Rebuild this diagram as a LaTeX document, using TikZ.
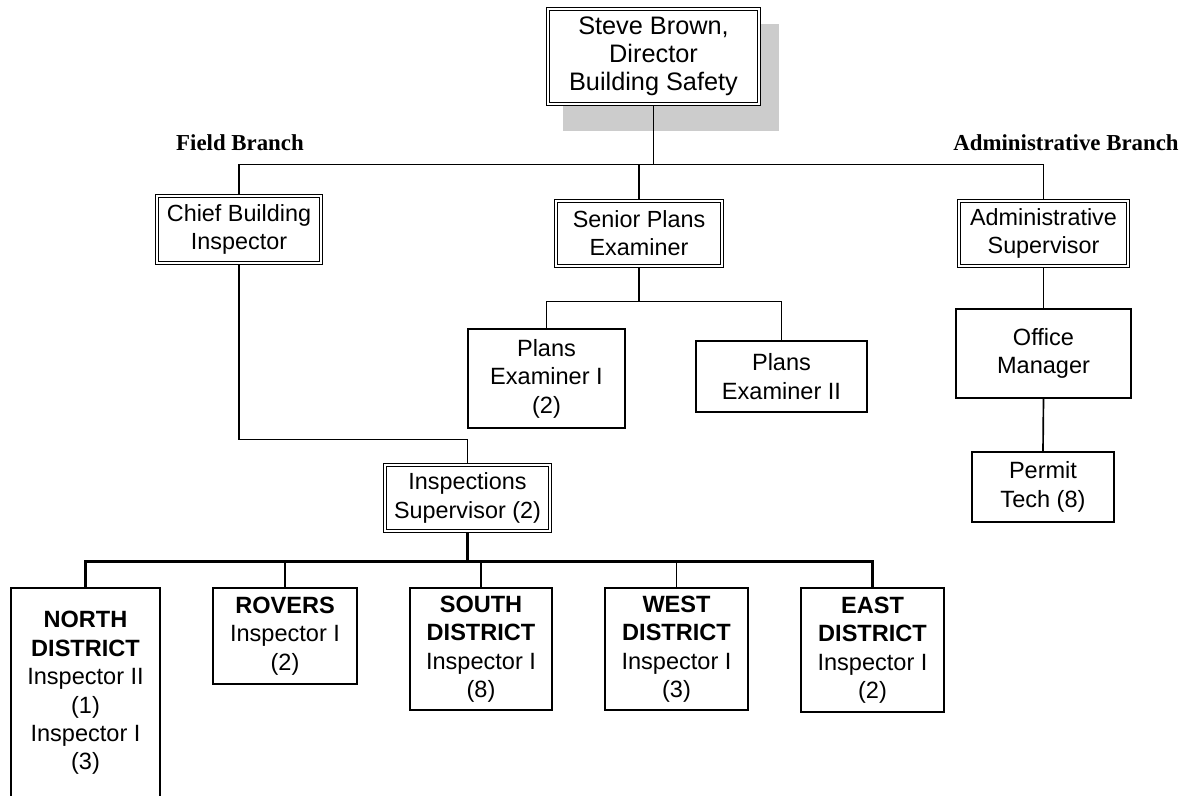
\documentclass[tikz,border=0pt]{standalone}
\usepackage{fontspec}
\setmainfont{Liberation Sans}
\newfontfamily\branchfont{Liberation Serif}
\usetikzlibrary{backgrounds}

\definecolor{shadowgray}{RGB}{204,204,204}

\tikzset{
  boxsize/.style 2 args={minimum width=#1*0.02cm, minimum height=#2*0.02cm},
  headbox/.style={draw, double, double distance=1.5pt, line width=0.55pt,
    fill=white, align=center, inner sep=0pt},
  staffbox/.style={draw, line width=0.7pt, fill=white, align=center, inner sep=0pt},
  link/.style={line width=0.95pt},
  branch/.style={font=\branchfont\bfseries\fontsize{13}{16}\selectfont},
}

\begin{document}
\begin{tikzpicture}[x=0.02cm,y=-0.02cm]
  \useasboundingbox (0,0) rectangle (1187,795);

  \begin{scope}[every node/.style={headbox,font=\fontsize{13.3}{16}\selectfont}]
    \node[boxsize={211}{95},font=\fontsize{14.4}{15.8}\selectfont] (dir) at (653.5,56.5)
      {Steve Brown,\\Director\\Building Safety};
    \node[boxsize={164}{67}] (chief)  at (239,229.5)  {Chief Building\\Inspector};
    \node[boxsize={166}{65}] (senior) at (639,233.5)  {Senior Plans\\Examiner};
    \node[boxsize={169}{65}] (admin)  at (1043.5,233.5) {Administrative\\Supervisor};
    \node[boxsize={165}{66}] (insp)   at (467.5,498)  {Inspections\\Supervisor (2)};
  \end{scope}

  \begin{scope}[every node/.style={staffbox,font=\fontsize{13.4}{16.2}\selectfont}]
    \node[boxsize={157}{99}]  (pe1)    at (546.5,378.5) {Plans\\Examiner I\\(2)};
    \node[boxsize={171}{71}]  (pe2)    at (781.5,376.5) {Plans\\Examiner II};
    \node[boxsize={175}{89}]  (office) at (1043.5,353.5) {Office\\Manager};
    \node[boxsize={142}{70}]  (permit) at (1043,487)    {Permit\\Tech (8)};
    \node[boxsize={149}{210}] (ndist)  at (85.5,693)
      {\textbf{NORTH}\\\textbf{DISTRICT}\\Inspector II\\(1)\\Inspector I\\(3)};
    \node[boxsize={144}{96}]  (rovers) at (285,636)   {\textbf{ROVERS}\\Inspector I\\(2)};
    \node[boxsize={142}{122}] (sdist)  at (481,649)   {\textbf{SOUTH}\\\textbf{DISTRICT}\\Inspector I\\(8)};
    \node[boxsize={143}{122}] (wdist)  at (676.5,649) {\textbf{WEST}\\\textbf{DISTRICT}\\Inspector I\\(3)};
    \node[boxsize={143}{124}] (edist)  at (872.5,650) {\textbf{EAST}\\\textbf{DISTRICT}\\Inspector I\\(2)};
  \end{scope}

  \node[branch] (fieldlbl) at (240,143)  {Field Branch};
  \node[branch] (adminlbl) at (1066,143) {Administrative Branch};

  \begin{scope}[on background layer]
    \fill[shadowgray] ([shift={(15,15)}]dir.north west) rectangle ([shift={(20,27)}]dir.south east);
    % top level
    \draw[link] (dir.south) -- ++(0,60) coordinate (top);
    \draw[link] (chief.north) |- (top) -| (admin.north);
    \draw[link] (senior.north) -- (senior.north |- top);
    % field branch
    \draw[link] (chief.south) -- ++(0,176) -| (insp.north);
    \draw[line width=1.2pt] (insp.south) -- ++(0,30) coordinate (districts);
    \draw[line width=1.2pt] (ndist.north) |- (districts) -| (edist.north);
    \foreach \d in {rovers,sdist,wdist}
      \draw[link] (\d.north) -- (\d.north |- districts);
    % plans
    \draw[link] (senior.south) -- ++(0,35) coordinate (plans);
    \draw[link] (pe1.north) |- (plans) -| (pe2.north);
    % administrative branch
    \draw[link] (admin.south) -- (office.north);
    \draw[link] (office.south) -- (permit.north);
  \end{scope}
\end{tikzpicture}
\end{document}
